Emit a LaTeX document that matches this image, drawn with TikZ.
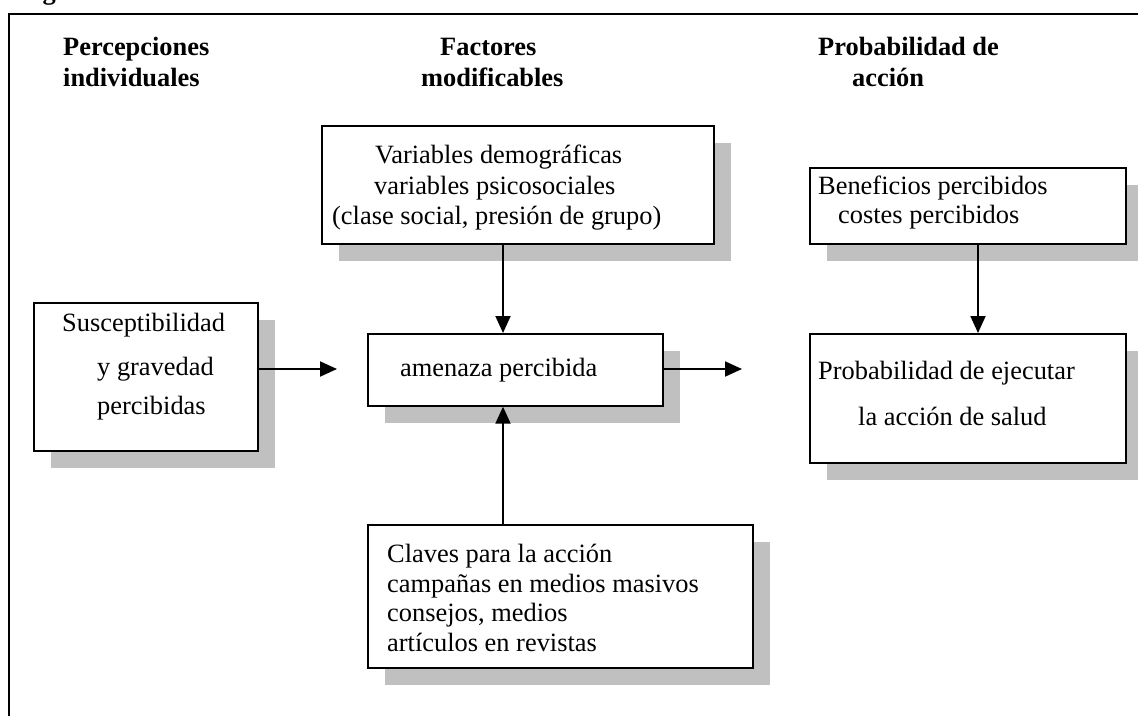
\documentclass[tikz,border=0pt]{standalone}
\usepackage{fontspec}
\setmainfont{Liberation Serif}
\usetikzlibrary{arrows.meta,shadows}
\definecolor{shadowgray}{RGB}{192,192,192}
\begin{document}
\begin{tikzpicture}[x=1pt,y=-1pt,
  box/.style={draw=black, line width=1.7pt, fill=white, inner sep=0pt, anchor=north west,
    drop shadow={shadow xshift=17pt, shadow yshift=-17pt, fill=shadowgray, opacity=1}},
  txt/.style={anchor=base west, inner sep=0pt, font=\fontsize{26.4}{30}\selectfont},
  head/.style={anchor=base west, inner sep=0pt, font=\fontsize{26.4}{30}\selectfont\bfseries},
  arr/.style={line width=1.9pt, -{Triangle[length=17pt,width=15pt]}},
  frameline/.style={line width=2.4pt}]
\useasboundingbox (0,0) rectangle (1138,715);
\clip (0,0) rectangle (1138,715);
\fill[white] (0,0) rectangle (1138,715);

% outer frame (cropped)
\draw[frameline] (9,725) -- (9,14) -- (1150,14);
\node[head] (fig) at (19,-1) {Fig};

% headings
\node[head] (h1a) at (63,55) {Percepciones};
\node[head] (h1b) at (63,86) {individuales};
\node[head] (h2a) at (440,55) {Factores};
\node[head] (h2b) at (421,86) {modificables};
\node[head] (h3a) at (818,55) {Probabilidad de};
\node[head] (h3b) at (852,86) {acción};

% boxes
\node[box, minimum width=392pt, minimum height=118pt] (var) at (321,125) {};
\node[box, minimum width=316pt, minimum height=76pt] (ben) at (809,167) {};
\node[box, minimum width=224pt, minimum height=148pt] (sus) at (33,302) {};
\node[box, minimum width=295pt, minimum height=72pt] (ame) at (367,333) {};
\node[box, minimum width=316pt, minimum height=129pt] (prob) at (809,333) {};
\node[box, minimum width=385pt, minimum height=143pt] (cla) at (367,524) {};

% box texts
\node[txt] (t1) at (375,163) {Variables demográficas};
\node[txt] (t2) at (374,194) {variables psicosociales};
\node[txt] (t3) at (332,224) {(clase social, presión de grupo)};

\node[txt] (t4) at (818,194) {Beneficios percibidos};
\node[txt] (t5) at (838,223) {costes percibidos};

\node[txt] (t6) at (62,331) {Susceptibilidad};
\node[txt] (t7) at (97,375) {y gravedad};
\node[txt] (t8) at (97,414) {percibidas};

\node[txt] (t9) at (400,376) {amenaza percibida};

\node[txt] (t10) at (818,379) {Probabilidad de ejecutar};
\node[txt] (t11) at (858,425) {la acción de salud};

\node[txt] (t12) at (387,562) {Claves para la acción};
\node[txt] (t13) at (387,592) {campañas en medios masivos};
\node[txt] (t14) at (387,621) {consejos, medios};
\node[txt] (t15) at (387,651) {artículos en revistas};

% connectors
\coordinate (a1) at (337,369);
\coordinate (a2) at (742,369);
\draw[arr] (sus.east |- a1) -- (a1);
\draw[arr] (ame.east |- a2) -- (a2);
\draw[arr] (var.south -| 503,0) -- (ame.north -| 503,0);
\draw[arr] (cla.north -| 503,0) -- (ame.south -| 503,0);
\draw[arr] (ben.south -| 978,0) -- (prob.north -| 978,0);
\end{tikzpicture}
\end{document}
